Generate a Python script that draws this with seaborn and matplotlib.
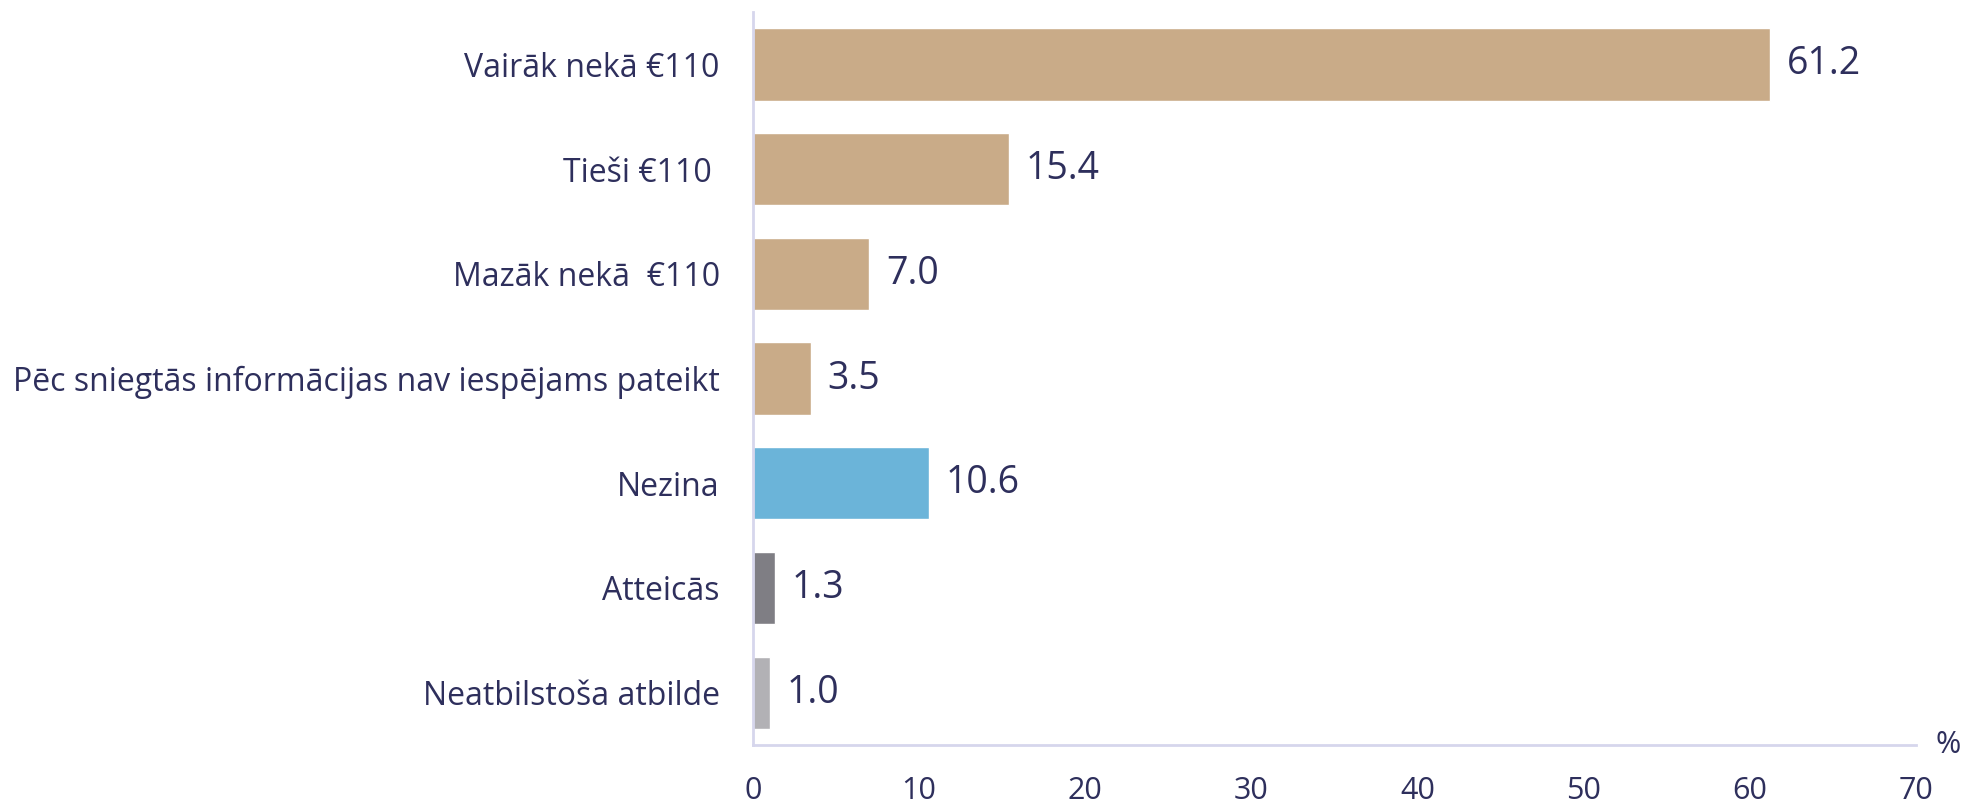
import pandas as pd
import seaborn as sns
from matplotlib import pyplot as plt

categories = [
    "Vairāk nekā €110",
    "Tieši €110 ",
    "Mazāk nekā  €110",
    "Pēc sniegtās informācijas nav iespējams pateikt",
    "Nezina",
    "Atteicās",
    "Neatbilstoša atbilde",
]
values = [61.2, 15.4, 7.0, 3.5, 10.6, 1.3, 1.0]
bar_colors = ["#C9AB88", "#C9AB88", "#C9AB88", "#C9AB88", "#6BB4D9", "#7F7E84", "#B2B1B5"]
x_ticks = [0, 10, 20, 30, 40, 50, 60, 70]

text_color = "#2E2F5C"
axis_color = "#D6D6EC"

sns.set_style("white")
plt.rcParams["font.family"] = ["Open Sans", "DejaVu Sans"]

df = pd.DataFrame({"cat": categories, "val": values})

fig = plt.figure(figsize=(19.67, 8.07), dpi=100)
ax = fig.add_axes([0.3828, 0.0768, 0.5913, 0.9083])

sns.barplot(data=df, x="val", y="cat", hue="cat", palette=bar_colors,
            order=categories, hue_order=categories, width=0.69,
            legend=False, ax=ax, saturation=1)

# value labels right of each bar
for cont in ax.containers:
    ax.bar_label(cont, fmt="%.1f", padding=12, fontsize=27, color=text_color)

ax.set_xlim(0, 70)
ax.set_ylim(6.5, -0.5)
ax.set_xticks(x_ticks)
ax.set_xlabel("")
ax.set_ylabel("")

for s in ["top", "right"]:
    ax.spines[s].set_visible(False)
for s in ["left", "bottom"]:
    ax.spines[s].set_color(axis_color)
    ax.spines[s].set_linewidth(2)

ax.tick_params(axis="y", length=0, pad=24, labelsize=23, labelcolor=text_color)
ax.tick_params(axis="x", length=0, pad=22, labelsize=22, labelcolor=text_color)

ax.text(1.0275, 0.0, "%", transform=ax.transAxes, fontsize=22,
        color=text_color, ha="center", va="center")

fig.savefig("out.png", dpi=100)
